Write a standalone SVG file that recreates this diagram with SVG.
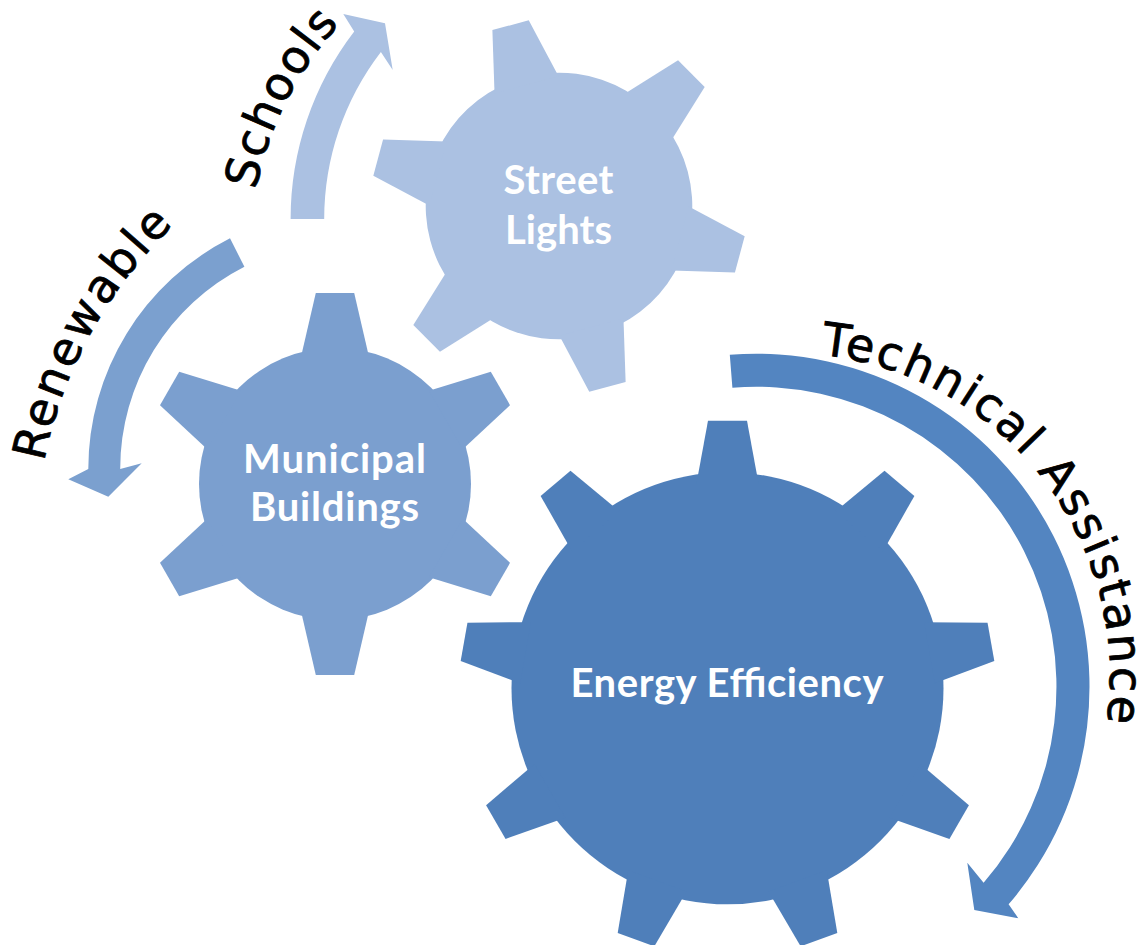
<svg xmlns="http://www.w3.org/2000/svg" xmlns:xlink="http://www.w3.org/1999/xlink" width="1143" height="945" viewBox="0 0 1143 945">
<style>
.lbl{font-family:Lato,"Open Sans","Liberation Sans",sans-serif;font-weight:700;font-size:40px;fill:#ffffff;text-anchor:middle}
.hand{font-family:"DejaVu Sans","Liberation Sans",sans-serif;font-size:46px;fill:#000000;stroke:#000000;stroke-width:0.8}
</style>
<defs>
<polygon id="t9" points="-19.5,-267.5 19.5,-267.5 31,-205 -31,-205"/>
<polygon id="t6" points="-19.2,-191 19.2,-191 33.8,-128 -33.8,-128"/>
<path id="tp-tech" d="M820.8,354.8 A323,323 0 0 1 1106,726.5" fill="none"/>
<path id="tp-ren" d="M44,462 A450,450 0 0 1 177,222" fill="none"/>
<path id="tp-sch" d="M256,190 A340,340 0 0 1 341,23" fill="none"/>
</defs>
<rect width="1143" height="945" fill="#ffffff"/>

<g id="street-lights" fill="#ABC1E2">
<g transform="translate(559,206) rotate(-15) scale(0.98)">
<circle r="136"/>
<use xlink:href="#t6"/>
<use xlink:href="#t6" transform="rotate(60)"/>
<use xlink:href="#t6" transform="rotate(120)"/>
<use xlink:href="#t6" transform="rotate(180)"/>
<use xlink:href="#t6" transform="rotate(240)"/>
<use xlink:href="#t6" transform="rotate(300)"/>
</g>
<text class="lbl" x="558.5" y="194" textLength="110">Street</text>
<text class="lbl" x="558.5" y="244" textLength="107">Lights</text>
</g>

<g id="municipal-buildings" fill="#7B9FCF">
<g transform="translate(335,484)">
<circle r="136"/>
<use xlink:href="#t6"/>
<use xlink:href="#t6" transform="rotate(60)"/>
<use xlink:href="#t6" transform="rotate(120)"/>
<use xlink:href="#t6" transform="rotate(180)"/>
<use xlink:href="#t6" transform="rotate(240)"/>
<use xlink:href="#t6" transform="rotate(300)"/>
</g>
<text class="lbl" x="334.5" y="473" textLength="183">Municipal</text>
<text class="lbl" x="334.5" y="521" textLength="169">Buildings</text>
</g>

<g id="energy-efficiency" fill="#4F7FBA">
<g transform="translate(727.5,688.3)">
<circle r="216"/>
<use xlink:href="#t9"/>
<use xlink:href="#t9" transform="rotate(40)"/>
<use xlink:href="#t9" transform="rotate(80)"/>
<use xlink:href="#t9" transform="rotate(120)"/>
<use xlink:href="#t9" transform="rotate(160)"/>
<use xlink:href="#t9" transform="rotate(200)"/>
<use xlink:href="#t9" transform="rotate(240)"/>
<use xlink:href="#t9" transform="rotate(280)"/>
<use xlink:href="#t9" transform="rotate(320)"/>
</g>
<text class="lbl" x="727" y="697" textLength="313">Energy Efficiency</text>
</g>

<g id="connectors">
<g id="arrow-technical-assistance">
<path fill="#5385C1" d="M729.8,354.8 A333,333 0 0 1 1008.6,904.3 L1018.3,918.3 L974.3,910 L967.3,862.7 L983.6,882.7 A300,300 0 0 0 732.4,387.7 Z"/>
<text class="hand"><textPath xlink:href="#tp-tech" textLength="520">Technical Assistance</textPath></text>
</g>
<g id="arrow-renewable">
<path fill="#7BA0CF" d="M230,238.3 A258.7,258.7 0 0 0 88.3,469 L68.3,479.3 L108.3,496.7 L141.7,463.3 L120.2,469 A226.8,226.8 0 0 1 244.4,266.7 Z"/>
<text class="hand"><textPath xlink:href="#tp-ren" textLength="274">Renewable</textPath></text>
</g>
<g id="arrow-schools">
<path fill="#ABC1E2" d="M290.6,219 A308,308 0 0 1 354.2,31.5 L343.3,14 L385,23.3 L392.7,70 L380.9,51.9 A274.4,274.4 0 0 0 324.2,219 Z"/>
<text class="hand"><textPath xlink:href="#tp-sch" textLength="188">Schools</textPath></text>
</g>
</g>
</svg>
